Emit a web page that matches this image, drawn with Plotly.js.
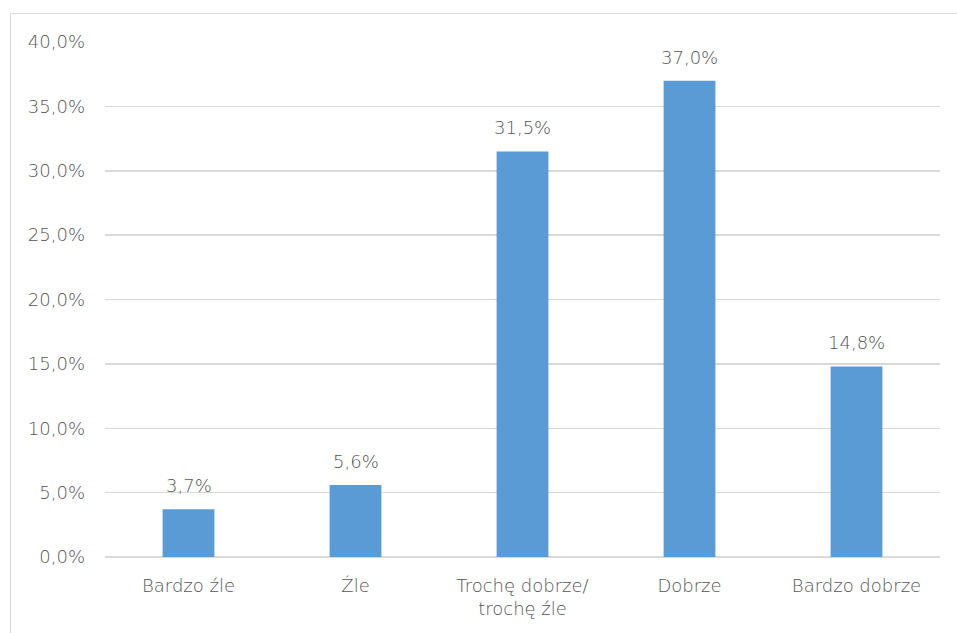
<!DOCTYPE html>
<html><head><meta charset="utf-8">
<script src="https://cdn.plot.ly/plotly-3.0.1.min.js"></script>
<style>
html,body{margin:0;padding:0;background:#fff;}
#wrap{position:relative;width:957px;height:633px;}
#chart{width:957px;height:633px;}
#frame{position:absolute;left:10px;top:13px;width:960px;height:640px;border-left:1.5px solid #d9d9d9;border-top:1.5px solid #d9d9d9;pointer-events:none;}
</style></head>
<body>
<div id="wrap"><div id="chart"></div><div id="frame"></div></div>
<script>
const categories = ["Bardzo źle", "Źle", "Trochę dobrze/<br>trochę źle", "Dobrze", "Bardzo dobrze"];
const values = [3.7, 5.6, 31.5, 37.0, 14.8];
const tickValues = [0, 5, 10, 15, 20, 25, 30, 35, 40];
const tickLabels = ["0,0%", "5,0%", "10,0%", "15,0%", "20,0%", "25,0%", "30,0%", "35,0%", "40,0%"];

const font = {family: "DejaVu Sans, sans-serif", size: 18, color: "#555555", weight: 300};

const annotations = categories.map((c, i) => ({
  x: c, y: values[i], xref: "x", yref: "y",
  text: values[i].toFixed(1).replace(".", ",") + "%",
  showarrow: false, yanchor: "bottom", yshift: 11, font: font
}));

Plotly.newPlot("chart", [{
  type: "bar",
  x: categories,
  y: values,
  marker: {color: "#5b9bd5"},
  hoverinfo: "skip"
}], {
  width: 957, height: 633,
  margin: {l: 105, r: 17, t: 42, b: 76},
  paper_bgcolor: "#fff", plot_bgcolor: "#fff",
  bargap: 0.69,
  font: font,
  showlegend: false,
  annotations: annotations,
  xaxis: {tickfont: font, showgrid: false, zeroline: false, showline: false, ticks: "",
          ticklabelstandoff: 16, automargin: false},
  yaxis: {range: [0, 40], tickvals: tickValues, ticktext: tickLabels,
          tickfont: font, showgrid: true, gridcolor: "#d9d9d9", gridwidth: 1.5,
          zeroline: true, zerolinecolor: "#d9d9d9", zerolinewidth: 1.5,
          showline: false, ticks: "", ticklabelstandoff: 19, automargin: false}
}, {staticPlot: true, displayModeBar: false});
</script>
</body></html>
